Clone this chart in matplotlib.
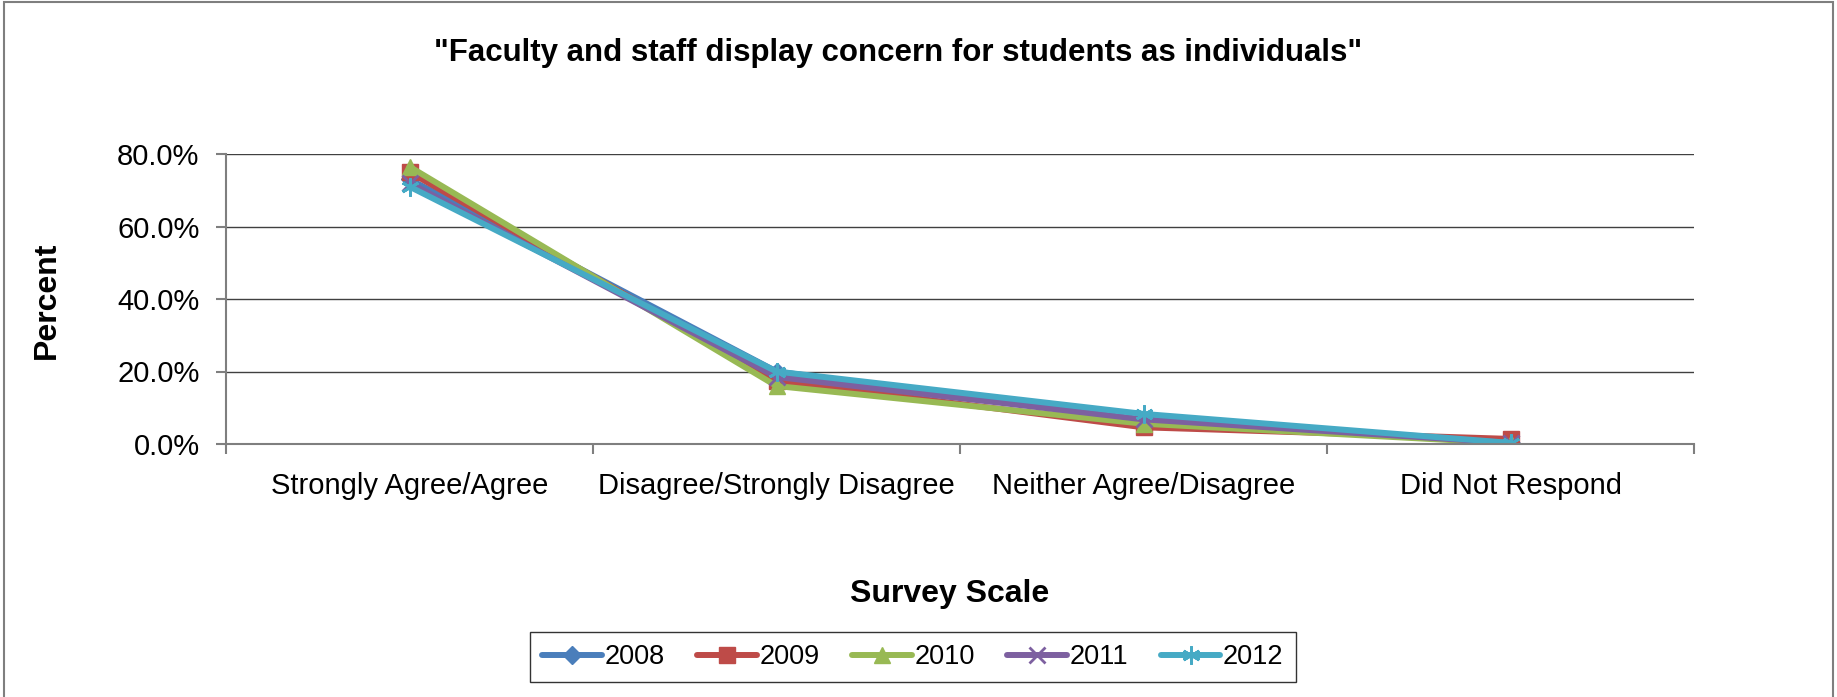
import matplotlib
matplotlib.use("Agg")
import matplotlib.pyplot as plt
from matplotlib.patches import Rectangle
from matplotlib.ticker import FuncFormatter, FixedLocator

plt.rcParams['font.family'] = ['Liberation Sans', 'DejaVu Sans']

categories = ["Strongly Agree/Agree", "Disagree/Strongly Disagree",
              "Neither Agree/Disagree", "Did Not Respond"]
years = ["2008", "2009", "2010", "2011", "2012"]
v2008 = [73.0, 20.0, 6.5, 0.3]
v2009 = [75.0, 17.5, 4.6, 1.4]
v2010 = [76.5, 16.0, 5.6, 0.2]
v2011 = [72.0, 18.5, 6.8, 0.3]
v2012 = [71.0, 20.0, 8.3, 0.3]
series = [v2008, v2009, v2010, v2011, v2012]

colors = ["#4A7EBB", "#BE4B48", "#98B954", "#7D60A0", "#46AAC5"]
markers = ["D", "s", "^", "x", (6, 2, 0)]
msizes = [9, 11, 12, 12, 13]

fig = plt.figure(figsize=(18.37, 6.97), dpi=100)
fig.patches.append(Rectangle((0.002, -0.05), 0.996, 1.047, transform=fig.transFigure,
                             fill=False, edgecolor="#7f7f7f", linewidth=1.5))
ax = fig.add_axes([226 / 1837, 1 - 444 / 697, (1694 - 226) / 1837, (444 - 154) / 697])

x = list(range(len(categories)))
for vals, yr, c, m, ms in zip(series, years, colors, markers, msizes):
    ax.plot(x, vals, color=c, linewidth=4.3, marker=m, markersize=ms,
            markerfacecolor=c, markeredgecolor=c, markeredgewidth=2 if m in ("x", (6, 2, 0)) else 1,
            label=yr, solid_joinstyle="round", solid_capstyle="round")

ax.set_xlim(-0.5, 3.5)
ax.set_ylim(0, 80)
ax.set_yticks([0, 20, 40, 60, 80])
ax.yaxis.set_major_formatter(FuncFormatter(lambda v, p: f"{v:.1f}%"))
ax.yaxis.grid(True, color="#404040", linewidth=1)
ax.set_axisbelow(True)
ax.set_xticks(x)
ax.set_xticklabels(categories)
ax.xaxis.set_minor_locator(FixedLocator([-0.5, 0.5, 1.5, 2.5, 3.5]))
ax.tick_params(axis="x", which="major", length=0, pad=20, labelsize=21)
ax.tick_params(axis="x", which="minor", length=7, color="#7f7f7f", width=1.5, direction="out")
ax.tick_params(axis="y", length=7, color="#7f7f7f", width=1.5, labelsize=21, pad=12)
for s in ["top", "right"]:
    ax.spines[s].set_visible(False)
for s in ["left", "bottom"]:
    ax.spines[s].set_color("#7f7f7f")
    ax.spines[s].set_linewidth(1.5)

fig.text(47 / 1837, 1 - 300 / 697, "Percent", rotation=90, ha="center", va="center",
         fontsize=23, fontweight="bold")
fig.text(950 / 1837, 1 - 594 / 697, "Survey Scale", ha="center", va="center",
         fontsize=23, fontweight="bold")
fig.text(898 / 1837, 1 - 53 / 697,
         '"Faculty and staff display concern for students as individuals"',
         ha="center", va="center", fontsize=22.5, fontweight="bold")

fig.legend(loc="center", bbox_to_anchor=(913 / 1837, 1 - 657 / 697), ncol=5,
           frameon=True, fancybox=False, edgecolor="black", fontsize=19.5,
           handlelength=2.2, handletextpad=0.1, columnspacing=1.2, borderpad=0.45)

fig.savefig("out.png", dpi=100)
